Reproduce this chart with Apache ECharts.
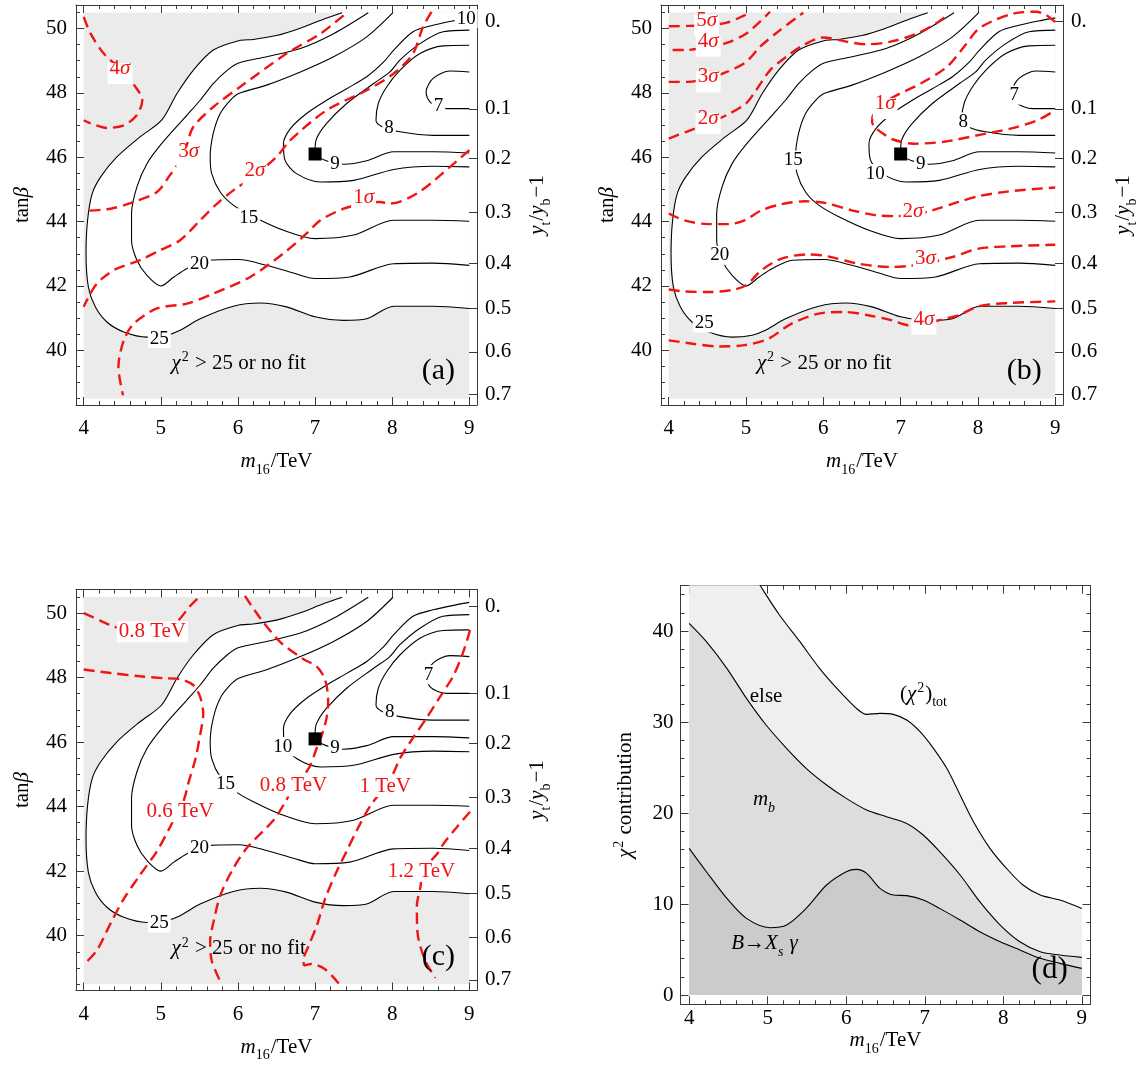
<!DOCTYPE html>
<html><head><meta charset="utf-8">
<script src="https://cdn.jsdelivr.net/npm/echarts@6/dist/echarts.min.js"></script>
<style>html,body{margin:0;padding:0;background:#fff}#c{width:1141px;height:1066px}</style>
</head><body><div id="c"></div>
<script>
// ---------------- DATA ----------------
// chi^2 contours (m16/TeV, tan beta), shared by panels (a), (b), (c)
const chi2_25 = [[7.35,50.49],[7.1,50.28],[6.8,50.0],[6.5,49.78],[6.2,49.66],[6.01,49.62],[5.68,49.33],[5.42,48.70],[5.21,47.98],[5.01,47.15],[4.73,46.63],[4.43,46.01],[4.22,45.39],[4.11,44.87],[4.05,44.04],[4.03,43.01],[4.06,41.97],[4.15,41.35],[4.30,40.88],[4.52,40.57],[4.82,40.41],[5.08,40.47],[5.25,40.62],[5.51,40.98],[5.94,41.37],[6.29,41.47],[6.63,41.35],[7.0,41.04],[7.37,40.93],[7.67,40.98],[8.02,41.37],[8.53,41.37],[9.0,41.30]];
const chi2_20 = [[7.69,50.49],[7.24,49.84],[6.81,49.38],[6.37,49.12],[6.01,48.93],[5.86,48.70],[5.68,48.29],[5.51,47.77],[5.34,47.31],[5.01,46.42],[4.82,45.80],[4.69,45.08],[4.62,44.25],[4.62,43.42],[4.69,42.80],[4.82,42.33],[5.0,42.0],[5.17,42.28],[5.34,42.54],[5.60,42.80],[6.01,42.82],[6.37,42.64],[6.72,42.40],[7.0,42.23],[7.45,42.28],[8.02,42.69],[8.53,42.71],[9.0,42.64]];
const chi2_15 = [[8.01,50.49],[7.67,49.74],[7.24,49.12],[6.81,48.65],[6.37,48.24],[6.01,47.98],[5.90,47.77],[5.77,47.36],[5.68,46.74],[5.64,46.01],[5.66,45.49],[5.77,44.92],[5.94,44.51],[6.20,44.15],[6.59,43.73],[7.0,43.47],[7.50,43.58],[8.02,44.04],[8.53,44.04],[9.0,44.01]];
const chi2_10 = [[9.0,50.33],[8.84,50.26],[8.53,50.10],[8.27,49.90],[8.02,49.33],[7.89,48.96],[7.67,48.50],[7.41,48.13],[7.15,47.77],[6.89,47.36],[6.68,46.89],[6.59,46.42],[6.61,45.91],[6.76,45.49],[7.07,45.23],[7.50,45.28],[8.02,45.62],[8.53,45.72],[9.0,45.70]];
const chi2_9 = [[9.0,49.95],[8.66,49.90],[8.36,49.53],[8.10,49.02],[7.97,48.65],[7.76,48.29],[7.41,47.67],[7.15,47.05],[7.02,46.58],[7.0,46.22],[7.04,46.01],[7.2,45.85],[7.37,45.78],[7.67,45.89],[8.02,46.17],[8.53,46.17],[9.0,46.13]];
const chi2_8 = [[9.0,49.48],[8.66,49.46],[8.36,49.22],[8.10,48.70],[7.93,48.19],[7.82,47.67],[7.79,47.15],[7.87,46.95],[8.10,46.79],[8.53,46.68],[9.0,46.68]];
const chi2_7 = [[9.0,48.65],[8.75,48.68],[8.53,48.45],[8.44,48.03],[8.49,47.72],[8.60,47.56],[8.71,47.51],[9.0,47.51]];
const bestFit = [7.0, 46.1];
const domainX = [4, 9];
const domainY = [38.5, 50.5];

// (a) sigma contours
const a_4sig = [[4.0,50.36],[4.09,49.84],[4.26,49.22],[4.47,48.75],[4.67,48.19],[4.76,47.77],[4.69,47.31],[4.52,46.99],[4.30,46.91],[4.09,47.05],[4.0,47.15]];
const a_3sig = [[7.37,50.41],[7.07,49.84],[6.63,49.22],[6.03,48.19],[5.68,47.56],[5.42,46.94],[5.34,46.4],[5.28,46.0],[5.12,45.45],[4.95,44.92],[4.65,44.61],[4.35,44.40],[4.0,44.33]];
const a_2sig = [[8.51,50.52],[8.40,50.05],[8.27,49.22],[8.02,48.60],[7.67,48.08],[7.15,47.46],[6.68,46.53],[6.50,46.01],[6.22,45.44],[5.94,44.97],[5.73,44.56],[5.51,44.04],[5.25,43.42],[4.99,43.11],[4.73,42.80],[4.39,42.49],[4.17,42.07],[4.04,41.55],[4.0,41.35]];
const a_1sig = [[9.0,46.22],[8.75,45.70],[8.32,44.87],[7.97,44.56],[7.84,44.61],[7.63,44.56],[7.37,44.40],[7.07,44.04],[6.89,43.63],[6.59,43.01],[6.16,42.28],[5.68,41.76],[5.34,41.45],[4.95,41.30],[4.65,40.83],[4.52,40.31],[4.45,39.48],[4.51,38.6]];

// (b) sigma contours
const b_5sig = [[4.0,50.07],[4.25,50.08],[4.49,50.1],[4.75,50.18],[4.98,50.41],[5.07,50.52]];
const b_4sig = [[4.05,49.33],[4.22,49.33],[4.49,49.42],[4.75,49.55],[5.0,49.84],[5.18,50.21],[5.31,50.52]];
const b_3sig = [[4.0,48.34],[4.25,48.34],[4.5,48.45],[4.75,48.65],[5.0,48.96],[5.18,49.43],[5.44,49.95],[5.74,50.49]];
const b_2sigUp = [[4.0,46.58],[4.23,46.79],[4.51,47.05],[4.75,47.31],[5.0,47.67],[5.13,48.08],[5.31,48.70],[5.52,49.12],[5.74,49.48],[6.0,49.72],[6.30,49.59],[6.56,49.51],[6.87,49.59],[7.21,49.84],[7.47,50.18],[7.60,50.41]];
const b_1sig = [[9.0,50.2],[8.88,50.42],[8.75,50.52],[8.47,50.47],[8.17,50.21],[7.99,49.95],[7.82,49.43],[7.60,48.81],[7.26,48.29],[6.91,47.88],[6.75,47.6],[6.65,47.35],[6.63,47.1],[6.68,46.9],[6.78,46.72],[6.90,46.55],[7.17,46.42],[7.56,46.48],[7.99,46.68],[8.42,46.89],[8.77,47.15],[9.0,47.46]];
const b_2sigLow = [[4.0,44.25],[4.2,44.04],[4.51,43.92],[4.77,43.92],[4.98,44.04],[5.2,44.35],[5.46,44.54],[5.76,44.63],[6.02,44.58],[6.37,44.35],[6.67,44.20],[6.93,44.17],[7.15,44.2],[7.41,44.35],[7.75,44.61],[8.01,44.79],[8.40,44.94],[9.0,45.06]];
const b_3sigLow = [[4.0,41.89],[4.2,41.83],[4.51,41.81],[4.81,41.87],[5.0,42.02],[5.2,42.49],[5.46,42.85],[5.81,42.98],[6.06,42.92],[6.45,42.69],[6.89,42.59],[7.1,42.62],[7.32,42.69],[7.67,42.90],[8.01,43.16],[8.40,43.23],[9.0,43.28]];
const b_4sigLow = [[4.0,40.31],[4.29,40.21],[4.64,40.12],[4.98,40.16],[5.29,40.36],[5.59,40.83],[5.94,41.14],[6.28,41.19],[6.58,41.09],[6.89,40.93],[7.1,40.78],[7.3,40.82],[7.49,40.93],[7.75,41.09],[8.01,41.37],[8.40,41.47],[9.0,41.52]];

// (c) TeV contours
const c_08left = [[4.0,50.0],[4.22,49.76],[4.39,49.58],[4.65,49.42],[4.95,49.42],[5.21,49.74],[5.38,50.22],[5.51,50.53]];
const c_06 = [[4.0,48.25],[4.35,48.14],[4.73,48.04],[5.04,47.98],[5.25,47.95],[5.42,47.77],[5.51,47.40],[5.55,46.87],[5.51,46.23],[5.45,45.49],[5.36,44.75],[5.30,44.21],[5.22,43.85],[5.12,43.37],[4.95,42.62],[4.73,41.88],[4.52,41.14],[4.35,40.39],[4.17,39.54],[4.0,39.10]];
const c_08 = [[6.09,50.53],[6.29,49.84],[6.55,49.10],[6.85,48.57],[7.02,48.35],[7.13,47.93],[7.17,47.29],[7.15,46.76],[7.09,46.23],[7.02,45.81],[6.94,45.28],[6.85,44.96],[6.72,44.64],[6.63,44.21],[6.46,43.58],[6.12,42.73],[5.94,42.09],[5.77,41.24],[5.68,40.39],[5.64,39.86],[5.66,39.22],[5.77,38.59]];
const c_10 = [[9.01,49.47],[8.92,48.78],[8.79,48.04],[8.62,47.40],[8.45,46.76],[8.27,46.13],[8.10,45.49],[8.02,45.06],[7.91,44.62],[7.71,44.0],[7.54,43.26],[7.41,42.62],[7.28,41.99],[7.13,41.14],[7.02,40.29],[6.91,39.65],[6.85,39.25],[6.86,39.08],[6.95,39.12],[7.13,38.96],[7.32,38.48]];
const c_12 = [[9.01,43.84],[8.84,43.37],[8.66,42.83],[8.58,42.52],[8.45,42.2],[8.38,41.99],[8.37,41.56],[8.32,40.92],[8.33,40.07],[8.43,39.22],[8.56,38.69]];

// right-hand axis: y_t/y_b - 1 tick labels and the tan beta where each sits
const rightTickLabels = ['0.', '0.1', '0.2', '0.3', '0.4', '0.5', '0.6', '0.7'];
const rightTickAt = [50.21, 47.50, 45.96, 44.29, 42.71, 41.30, 39.95, 38.63];

// (d) chi^2 contributions
const dTotX = [4.0,4.25,4.5,4.75,4.9,5.15,5.41,5.66,5.92,6.13,6.26,6.43,6.6,6.77,6.94,7.11,7.28,7.45,7.62,7.83,8.04,8.25,8.47,8.72,9.0];
const dTotY = [57.5,54.0,50.6,47.1,45.05,41.76,38.83,35.9,33.33,31.5,30.84,30.95,30.84,30.22,28.94,27.11,24.91,21.98,19.05,16.12,13.92,12.09,10.99,10.44,9.52];
const dMbX = [4.0,4.22,4.48,4.73,4.98,5.24,5.49,5.75,6.0,6.26,6.51,6.77,6.98,7.19,7.45,7.70,7.96,8.21,8.47,8.72,9.0];
const dMbY = [40.84,38.83,35.9,32.6,29.67,27.11,24.91,23.08,21.61,20.33,19.6,18.86,17.58,15.75,13.19,10.26,7.69,5.86,4.76,4.4,4.14];
const dBsgX = [4.0,4.22,4.48,4.73,5.03,5.24,5.49,5.75,6.0,6.13,6.26,6.43,6.6,6.77,6.98,7.19,7.45,7.70,7.96,8.21,8.47,8.72,9.0];
const dBsgY = [16.12,13.55,10.62,8.42,7.40,7.69,9.52,12.09,13.55,13.81,13.37,11.72,10.99,10.92,10.44,9.52,8.24,6.96,5.86,4.95,4.03,3.48,2.93];

// axis tick values
const xMajor = [4,5,6,7,8,9];
const tanbMajor = [40,42,44,46,48,50];
const chiMajor = [0,10,20,30,40];
const chiLabels = ['0','10','20','30','40'];

// ---------------- STYLE / LAYOUT ----------------
const FONT = '"Liberation Serif","Times New Roman",serif';
const FRAME = '#3a3a3a';
const RED = '#f01414';
function seq(a, b, s) { const r = []; for (let k = 0; a + k * s <= b + 1e-9; k++) r.push(+(a + k * s).toFixed(4)); return r; }
const xMinor = seq(4, 9, 0.2);
const tanbMinor = seq(38.5, 50.5, 0.5);
const chiMinor = seq(0, 44, 2);

function richSet(size, color) {
  const s = Math.round(size * 0.68);
  const base = { fontFamily: FONT, color: color, verticalAlign: 'bottom' };
  return {
    n: Object.assign({}, base, { fontSize: size, lineHeight: size, padding: [0, 0, 5, 0] }),
    i: Object.assign({}, base, { fontSize: size, lineHeight: size, padding: [0, 0, 5, 0], fontStyle: 'italic' }),
    r: Object.assign({}, base, { fontSize: size, lineHeight: size, padding: [0, 0, 5, 0] }),
    ri: Object.assign({}, base, { fontSize: size, lineHeight: size, padding: [0, 0, 5, 0], fontStyle: 'italic' }),
    sub: Object.assign({}, base, { fontSize: s, lineHeight: s, padding: [0, 1, 0, 0] }),
    isub: Object.assign({}, base, { fontSize: s, lineHeight: s, padding: [0, 1, 0, 0], fontStyle: 'italic' }),
    sup: Object.assign({}, base, { fontSize: s, lineHeight: s, padding: [0, 1, 14, 1] })
  };
}

const grids = [], xAxes = [], yAxes = [], series = [];
const frameLine = { show: true, onZero: false, lineStyle: { color: FRAME, width: 1 } };
const hiddenLine = { show: false, onZero: false };
function ticks(vals, len) { return { show: true, inside: true, length: len, customValues: vals, lineStyle: { color: FRAME, width: 1 } }; }
function tickLabels(vals, margin, fmt) {
  return { show: true, customValues: vals, margin: margin, fontFamily: FONT, fontSize: 21, color: '#000', formatter: fmt };
}
function nameStyle() { return { fontFamily: FONT, fontSize: 21, color: '#000', rich: richSet(21, '#000') }; }

function addPanel(rect, c) {
  const gi = grids.length;
  grids.push(Object.assign({ containLabel: false }, rect));
  const xb = { type: 'value', gridIndex: gi, min: c.xr[0], max: c.xr[1], splitLine: { show: false } };
  const yb = { type: 'value', gridIndex: gi, min: c.yr[0], max: c.yr[1], splitLine: { show: false } };
  const xi = xAxes.length, yi = yAxes.length;
  xAxes.push(Object.assign({}, xb, { position: 'bottom', axisLine: frameLine, axisTick: ticks(c.xMaj, 8),
    axisLabel: tickLabels(c.xMaj, c.xMargin, v => String(v)),
    name: '{i|m}{sub|16}{n|/TeV}', nameLocation: 'middle', nameGap: c.xGap, nameTextStyle: nameStyle() }));
  xAxes.push(Object.assign({}, xb, { position: 'bottom', axisLine: hiddenLine, axisTick: ticks(c.xMin, 4), axisLabel: { show: false } }));
  xAxes.push(Object.assign({}, xb, { position: 'top', axisLine: frameLine, axisTick: ticks(c.xMaj, 8), axisLabel: { show: false } }));
  xAxes.push(Object.assign({}, xb, { position: 'top', axisLine: hiddenLine, axisTick: ticks(c.xMin, 4), axisLabel: { show: false } }));
  yAxes.push(Object.assign({}, yb, { position: 'left', axisLine: frameLine, axisTick: ticks(c.yMaj, 8),
    axisLabel: tickLabels(c.yMaj, c.yMargin, c.yFmt),
    name: c.yName, nameRotate: 90, nameLocation: 'middle', nameGap: c.yGap, nameTextStyle: nameStyle() }));
  yAxes.push(Object.assign({}, yb, { position: 'left', axisLine: hiddenLine, axisTick: ticks(c.yMin, 4), axisLabel: { show: false } }));
  if (c.right) {
    yAxes.push(Object.assign({}, yb, { position: 'right', axisLine: frameLine, axisTick: ticks(c.right.at, 8),
      axisLabel: tickLabels(c.right.at, 8, c.right.fmt),
      name: c.right.name, nameRotate: 90, nameLocation: 'middle', nameGap: c.right.gap, nameTextStyle: nameStyle() }));
  } else {
    yAxes.push(Object.assign({}, yb, { position: 'right', axisLine: frameLine, axisTick: ticks(c.yMaj, 8), axisLabel: { show: false } }));
    yAxes.push(Object.assign({}, yb, { position: 'right', axisLine: hiddenLine, axisTick: ticks(c.yMin, 4), axisLabel: { show: false } }));
  }
  return { x: xi, y: yi };
}

function curve(ax, pts, kind) {
  const red = kind === 'red';
  return { type: 'line', xAxisIndex: ax.x, yAxisIndex: ax.y, data: pts, showSymbol: false, symbol: 'none',
    smooth: 0.3, silent: true, z: red ? 3 : 2, clip: true,
    lineStyle: red ? { color: RED, width: 2.4, type: [11, 6] } : { color: '#000', width: 1.1 } };
}
function textLayer(ax, items, o) {
  o = o || {};
  const size = o.size || 19, color = o.color || '#000';
  return { type: 'scatter', xAxisIndex: ax.x, yAxisIndex: ax.y, z: o.z || 5, silent: true, symbol: 'rect', symbolSize: 1,
    itemStyle: { color: 'rgba(0,0,0,0)', opacity: 1 },
    label: { show: true, position: 'inside', formatter: p => p.data.txt, fontFamily: FONT, fontSize: size, color: color,
      backgroundColor: o.bg === undefined ? '#fff' : o.bg, padding: o.pad || [0, 2], rich: richSet(size, color) },
    data: items.map(d => ({ value: d.p, txt: d.t })) };
}
function region(ax) {
  const box = [[domainX[0], domainY[0]], [domainX[1], domainY[0]], [domainX[1], domainY[1]], [domainX[0], domainY[1]]];
  const inside = chi2_25.concat([[domainX[1], domainY[1]]]);
  return { type: 'custom', xAxisIndex: ax.x, yAxisIndex: ax.y, z: 0, silent: true, data: [[domainX[0], domainY[0]]],
    renderItem: (params, api) => ({ type: 'group', children: [
      { type: 'polygon', shape: { points: box.map(p => api.coord(p)) }, style: { fill: '#ebebeb' } },
      { type: 'polygon', shape: { points: inside.map(p => api.coord(p)) }, style: { fill: '#ffffff' } }
    ] }) };
}

const rightFmt = v => { let b = 0; rightTickAt.forEach((t, i) => { if (Math.abs(t - v) < Math.abs(rightTickAt[b] - v)) b = i; }); return rightTickLabels[b]; };
const contourCfg = {
  xr: [3.9, 9.1], yr: [38.3, 50.73], xMaj: xMajor, xMin: xMinor, yMaj: tanbMajor, yMin: tanbMinor,
  xMargin: 13, xGap: 51, yMargin: 9, yGap: 38, yFmt: v => String(v), yName: '{n|tan}{i|β}',
  right: { at: rightTickAt, fmt: rightFmt, name: '{i|y}{sub|t}{n|/}{i|y}{sub|b}{n|−1}', gap: 55 }
};
const blackContours = [chi2_25, chi2_20, chi2_15, chi2_10, chi2_9, chi2_8, chi2_7];

function contourPanel(rect, reds, numLabels, redLabels, letter) {
  const ax = addPanel(rect, contourCfg);
  series.push(region(ax));
  series.push(textLayer(ax, [{ p: [6.01, 39.45], t: '{i|χ}{sup|2}{n| > 25 or no fit}' }], { size: 21, bg: 'rgba(0,0,0,0)', z: 1, pad: [0, 0] }));
  blackContours.forEach(c => series.push(curve(ax, c, 'black')));
  reds.forEach(c => series.push(curve(ax, c, 'red')));
  series.push({ type: 'scatter', xAxisIndex: ax.x, yAxisIndex: ax.y, z: 4, silent: true, symbol: 'rect', symbolSize: 13,
    itemStyle: { color: '#000', opacity: 1 }, data: [bestFit] });
  series.push(textLayer(ax, numLabels, { size: 19 }));
  series.push(textLayer(ax, redLabels, { size: 21, color: RED }));
  series.push(textLayer(ax, [{ p: [8.6, 39.35], t: letter }], { size: 30, bg: 'rgba(0,0,0,0)', pad: [0, 0] }));
}

// (a)
contourPanel({ left: 76, top: 5, width: 401, height: 400 },
  [a_4sig, a_3sig, a_2sig, a_1sig],
  [{ p: [8.96, 50.31], t: '10' }, { p: [8.60, 47.58], t: '7' }, { p: [7.96, 46.91], t: '8' }, { p: [7.26, 45.80], t: '9' },
   { p: [6.14, 44.12], t: '15' }, { p: [5.50, 42.69], t: '20' }, { p: [4.98, 40.36], t: '25' }],
  [{ p: [4.47, 48.60], t: '{r|4}{ri|σ}' }, { p: [5.36, 46.01], t: '{r|3}{ri|σ}' }, { p: [6.22, 45.44], t: '{r|2}{ri|σ}' }, { p: [7.63, 44.58], t: '{r|1}{ri|σ}' }],
  '(a)');
// (b)
contourPanel({ left: 661, top: 5, width: 402, height: 400 },
  [b_5sig, b_4sig, b_3sig, b_2sigUp, b_1sig, b_2sigLow, b_3sigLow, b_4sigLow],
  [{ p: [5.61, 45.91], t: '15' }, { p: [6.67, 45.49], t: '10' }, { p: [7.26, 45.80], t: '9' }, { p: [7.81, 47.10], t: '8' },
   { p: [8.47, 47.93], t: '7' }, { p: [4.66, 42.95], t: '20' }, { p: [4.46, 40.85], t: '25' }],
  [{ p: [4.49, 50.10], t: '{r|5}{ri|σ}' }, { p: [4.51, 49.45], t: '{r|4}{ri|σ}' }, { p: [4.51, 48.34], t: '{r|3}{ri|σ}' },
   { p: [4.51, 47.05], t: '{r|2}{ri|σ}' }, { p: [6.80, 47.51], t: '{r|1}{ri|σ}' }, { p: [7.16, 44.15], t: '{r|2}{ri|σ}' },
   { p: [7.32, 42.69], t: '{r|3}{ri|σ}' }, { p: [7.30, 40.81], t: '{r|4}{ri|σ}' }],
  '(b)');
// (c)
contourPanel({ left: 76, top: 589.5, width: 401, height: 401 },
  [c_08left, c_06, c_08, c_10, c_12],
  [{ p: [6.58, 45.86], t: '10' }, { p: [7.26, 45.81], t: '9' }, { p: [7.97, 46.92], t: '8' }, { p: [8.47, 48.09], t: '7' },
   { p: [5.84, 44.69], t: '15' }, { p: [5.50, 42.73], t: '20' }, { p: [4.98, 40.39], t: '25' }],
  [{ p: [4.89, 49.42], t: '0.8 TeV' }, { p: [5.25, 43.84], t: '0.6 TeV' }, { p: [6.72, 44.64], t: '0.8 TeV' },
   { p: [7.91, 44.62], t: '1 TeV' }, { p: [8.38, 41.99], t: '1.2 TeV' }],
  '(c)');

// (d)
const axD = addPanel({ left: 680.5, top: 585.7, width: 410, height: 418.6 }, {
  xr: [3.89, 9.11], yr: [-1.02, 44.98], xMaj: xMajor, xMin: xMinor, yMaj: chiMajor, yMin: chiMinor,
  xMargin: 4, xGap: 24, yMargin: 7, yGap: 40, yFmt: v => chiLabels[chiMajor.indexOf(v)],
  yName: '{i|χ}{sup|2}{n| contribution}'
});
const zip = (xs, ys) => xs.map((x, i) => [x, ys[i]]);
[[dTotX, dTotY, '#efefef'], [dMbX, dMbY, '#dddddd'], [dBsgX, dBsgY, '#cbcbcb']].forEach((s, k) => {
  series.push({ type: 'line', xAxisIndex: axD.x, yAxisIndex: axD.y, data: zip(s[0], s[1]), showSymbol: false, symbol: 'none',
    smooth: 0.3, clip: true, silent: true, z: 2 + k, lineStyle: { color: '#000', width: 1.1 }, areaStyle: { color: s[2], opacity: 1, origin: 'auto' } });
});
series.push(textLayer(axD, [
  { p: [4.98, 32.8], t: 'else' }, { p: [6.99, 32.5], t: '{n|(}{i|χ}{sup|2}{n|)}{sub|tot}' },
  { p: [4.96, 20.9], t: '{i|m}{isub|b}' }, { p: [4.96, 5.1], t: '{i|B}{n|→}{i|X}{isub|s}{i| γ}' }
], { size: 21, bg: 'rgba(0,0,0,0)', pad: [0, 0] }));
series.push(textLayer(axD, [{ p: [8.59, 2.75], t: '(d)' }], { size: 31, bg: 'rgba(0,0,0,0)', pad: [0, 0] }));

const chart = echarts.init(document.getElementById('c'), null, { renderer: 'canvas', width: 1141, height: 1066 });
chart.setOption({ animation: false, backgroundColor: '#fff', grid: grids, xAxis: xAxes, yAxis: yAxes, series: series });
</script></body></html>
